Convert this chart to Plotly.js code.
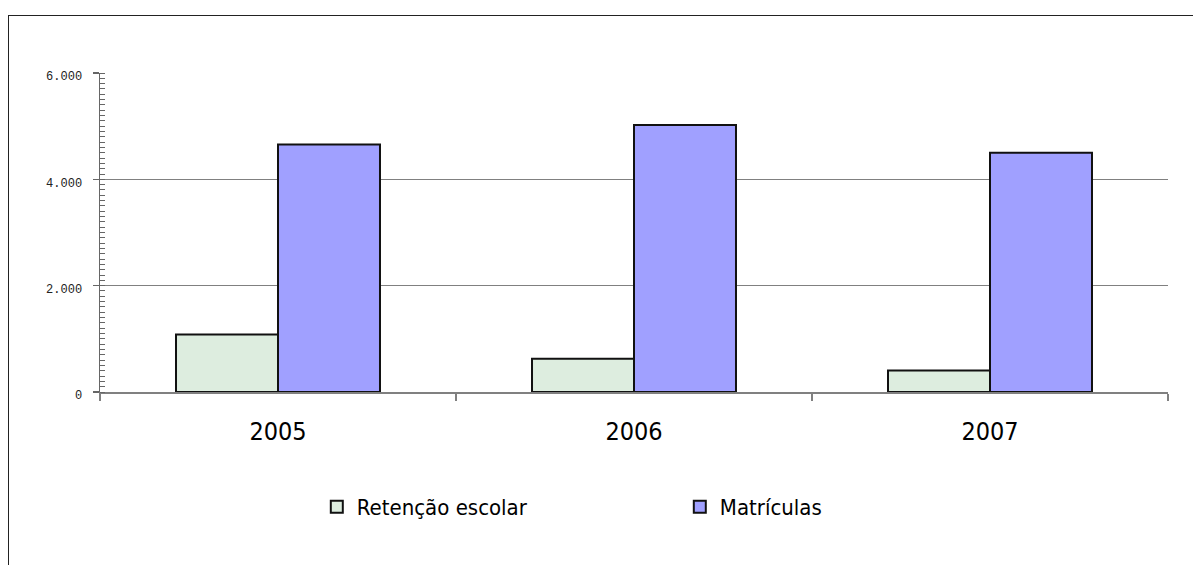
<!DOCTYPE html>
<html>
<head>
<meta charset="utf-8">
<script src="https://cdn.plot.ly/plotly-3.0.1.min.js"></script>
<style>
  html, body { margin: 0; padding: 0; background: #fff; }
  #wrap { position: relative; width: 1193px; height: 565px; overflow: hidden; }
  #frame { position: absolute; left: 8px; top: 15px; width: 1300px; height: 700px;
           border-top: 1.5px solid #222; border-left: 1.5px solid #222; }
  #chart { position: absolute; left: 0; top: 0; width: 1193px; height: 565px; }
</style>
</head>
<body>
<div id="wrap">
  <div id="frame"></div>
  <div id="chart"></div>
</div>
<script>
const years = ['2005', '2006', '2007'];
const retencao = [1080, 625, 405];
const matriculas = [4655, 5020, 4500];
const seriesNames = ['Retenção escolar', 'Matrículas'];
const yTickVals = [0, 2000, 4000, 6000];
const yTickText = ['0', '2.000', '4.000', '6.000'];

const traces = [
  {
    type: 'bar', name: seriesNames[0], x: years, y: retencao,
    marker: { color: '#DDEDDF', line: { color: '#111', width: 2 } },
    hoverinfo: 'skip'
  },
  {
    type: 'bar', name: seriesNames[1], x: years, y: matriculas,
    marker: { color: '#A0A0FF', line: { color: '#111', width: 2 } },
    hoverinfo: 'skip'
  }
];

const layout = {
  width: 1193, height: 565,
  margin: { l: 100, r: 25, t: 73, b: 173 },
  paper_bgcolor: 'rgba(0,0,0,0)',
  plot_bgcolor: 'rgba(0,0,0,0)',
  barmode: 'group',
  bargap: 0.427,
  bargroupgap: 0,
  showlegend: true,
  legend: {
    orientation: 'h', x: 0.203, xanchor: 'left', y: -0.36, yanchor: 'middle',
    entrywidth: 318, entrywidthmode: 'pixels',
    font: { family: '"DejaVu Sans Condensed", "DejaVu Sans", sans-serif', size: 22, color: '#000' },
    traceorder: 'normal'
  },
  xaxis: {
    type: 'category',
    tickson: 'boundaries',
    ticks: 'outside', ticklen: 7, tickwidth: 1.5, tickcolor: '#808080',
    showline: true, linecolor: '#808080', linewidth: 2,
    showgrid: false, zeroline: false,
    tickfont: { family: '"DejaVu Sans Condensed", "DejaVu Sans", sans-serif', size: 25, color: '#000' },
    ticklabelstandoff: 16
  },
  yaxis: {
    range: [0, 6000],
    tickvals: yTickVals, ticktext: yTickText,
    ticks: 'outside', ticklen: 6, tickwidth: 1.5, tickcolor: '#666',
    showline: true, linecolor: '#666', linewidth: 1.5,
    showgrid: true, gridcolor: '#808080', gridwidth: 1.5,
    zeroline: false,
    minor: { dtick: 100, ticks: 'inside', ticklen: 5, tickwidth: 1, tickcolor: '#666', showgrid: false },
    tickfont: { family: '"Liberation Mono", monospace', size: 12, color: '#222' },
    ticklabelstandoff: 8,
    ticklabelshift: 3
  },
  font: { family: '"DejaVu Sans", sans-serif' }
};

Plotly.newPlot('chart', traces, layout, { displayModeBar: false, staticPlot: true });
</script>
</body>
</html>
